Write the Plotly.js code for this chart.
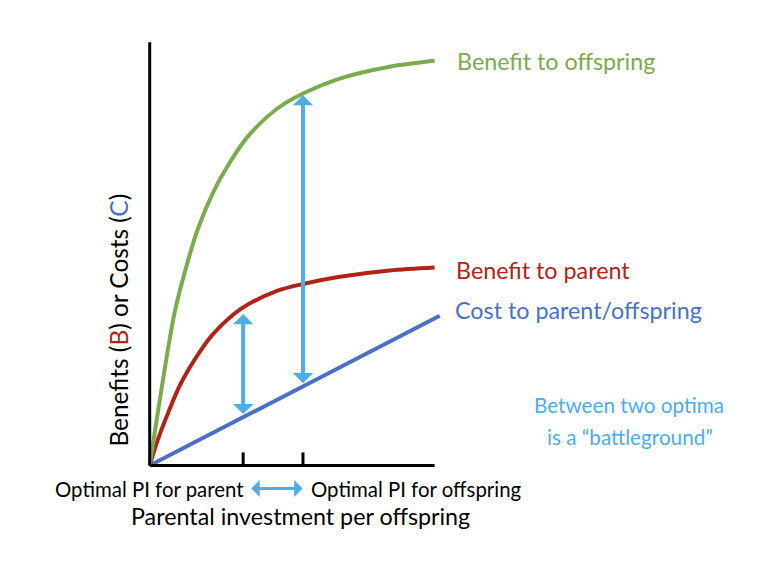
<!DOCTYPE html>
<html>
<head>
<meta charset="utf-8">
<script src="https://cdn.plot.ly/plotly-3.0.1.min.js"></script>
<style>html,body{margin:0;padding:0;background:#fff;}#chart{width:782px;height:584px;}</style>
</head>
<body>
<div id="chart"></div>
<script>
// ---- data ----
const xGreen = [0, 0.87, 1.22, 1.68, 2.27, 2.85, 3.44, 4.49, 5.38, 6.67, 8.42, 10];
const yGreen = [0, 3.60, 4.54, 5.57, 6.51, 7.20, 7.77, 8.44, 8.79, 9.14, 9.42, 9.56];
const xRed = [0, 0.28, 0.63, 1.10, 1.81, 2.27, 3.20, 4.49, 5.38, 6.67, 8.42, 10];
const yRed = [0, 0.60, 1.22, 1.95, 2.74, 3.14, 3.70, 4.13, 4.29, 4.46, 4.61, 4.68];
const xBlue = [0, 10.18];
const yBlue = [0, 3.54];
const optX = [3.28, 5.38];          // optimal PI for parent, for offspring
const arrowTop = [3.58, 8.75];
const arrowBot = [1.18, 1.91];
const tickLen = 0.31;
const axisXEnd = 10, axisYEnd = 10;

const labels = {
  green: 'Benefit to offspring',
  red: 'Benefit to parent',
  blue: 'Cost to parent/offspring',
  battle1: 'Between two optima',
  battle2: 'is a \u201cbattleground\u201d',
  yTitle: 'Benefits (<span style="color:#B02418">B</span>) or Costs (<span style="color:#4A71C3">C</span>)',
  optParent: 'Optimal PI for parent',
  optOff: 'Optimal PI for offspring',
  xTitle: 'Parental investment per offspring'
};

// ---- styles ----
const GREEN = '#7AAB4E', RED = '#B02418', BLUE = '#4A71C3', LBLUE = '#4DADE8';
const FONT = 'Lato, "Open Sans", sans-serif';

const L = 144.3, T = 37.76, PW = 302.1, PH = 436.72;
const fx = px => (px - L) / PW;
const fy = py => 1 - (py - T) / PH;

const tickX = [], tickY = [];
optX.forEach(v => { tickX.push(v, v, null); tickY.push(0, tickLen, null); });

const traces = [
  {x: tickX, y: tickY, mode: 'lines', line: {color: '#000', width: 3}, hoverinfo: 'skip'},
  {x: xBlue, y: yBlue, mode: 'lines', line: {color: BLUE, width: 4}},
  {x: xRed, y: yRed, mode: 'lines', line: {color: RED, width: 4, shape: 'spline', smoothing: 0.9}},
  {x: xGreen, y: yGreen, mode: 'lines', line: {color: GREEN, width: 4, shape: 'spline', smoothing: 0.9}}
];

const txt = (text, px, py, color, xanchor, size, extra) => Object.assign({
  text: text, xref: 'paper', yref: 'paper', x: fx(px), y: fy(py),
  xanchor: xanchor, yanchor: 'middle', showarrow: false,
  font: {family: FONT, size: size, color: color}
}, extra || {});

const annotations = [
  txt(labels.green, 455, 61, GREEN, 'left', 23.3),
  txt(labels.red, 454, 270, RED, 'left', 23.3),
  txt(labels.blue, 453, 310, BLUE, 'left', 23.3),
  txt(labels.battle1, 629, 405, LBLUE, 'center', 20.7),
  txt(labels.battle2, 630, 437, LBLUE, 'center', 20.7),
  txt(labels.optParent, 246, 490, '#000', 'right', 20.4),
  txt(labels.optOff, 309, 490, '#000', 'left', 20.4),
  txt(labels.xTitle, 301, 517, '#000', 'center', 23.3),
  txt(labels.yTitle, 119, 320, '#000', 'center', 24.4, {textangle: -90}),
  // horizontal double arrow between the two labels
  {text: '', xref: 'paper', yref: 'paper', x: fx(303), y: fy(489), ax: -53, ay: 0,
   showarrow: true, arrowside: 'end+start', arrowhead: 1, startarrowhead: 1,
   arrowwidth: 3, arrowsize: 0.95, startarrowsize: 0.95, arrowcolor: LBLUE, standoff: 0, startstandoff: 0}
];
optX.forEach((v, i) => {
  annotations.push({text: '', xref: 'x', yref: 'y', axref: 'x', ayref: 'y',
    x: v, y: arrowTop[i], ax: v, ay: arrowBot[i],
    showarrow: true, arrowside: 'end+start', arrowhead: 1, startarrowhead: 1,
    arrowwidth: 4, arrowsize: 0.85, startarrowsize: 0.85, arrowcolor: LBLUE, standoff: 0, startstandoff: 0});
});

const layout = {
  width: 782, height: 584,
  margin: {l: L, r: 782 - L - PW, t: T, b: 584 - T - PH, pad: 0},
  paper_bgcolor: '#fff', plot_bgcolor: '#fff',
  showlegend: false,
  xaxis: {range: [-0.2, 10.4], showgrid: false, zeroline: false, showline: false, showticklabels: false, ticks: '', fixedrange: true},
  yaxis: {range: [-0.2, 10.1], showgrid: false, zeroline: false, showline: false, showticklabels: false, ticks: '', fixedrange: true},
  shapes: [
    {type: 'line', xref: 'x', yref: 'y', x0: 0, y0: 0, x1: axisXEnd, y1: 0, line: {color: '#000', width: 3}},
    {type: 'line', xref: 'x', yref: 'y', x0: 0, y0: 0, x1: 0, y1: axisYEnd, line: {color: '#000', width: 3}}
  ],
  annotations: annotations
};

Plotly.newPlot('chart', traces, layout, {displayModeBar: false, staticPlot: true});
</script>
</body>
</html>
